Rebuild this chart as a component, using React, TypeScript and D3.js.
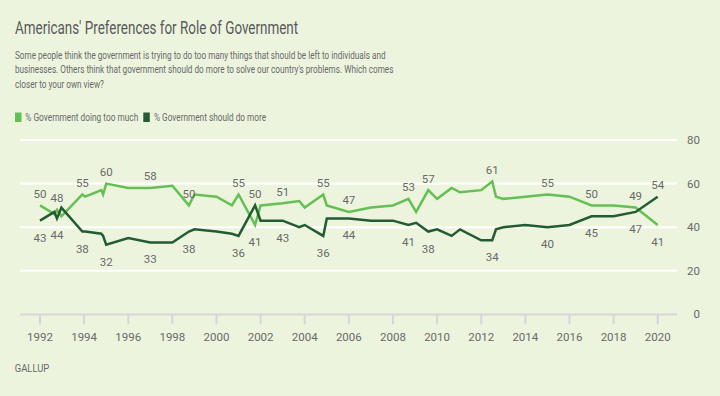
import React, { useLayoutEffect, useRef, useState } from "react";
import * as d3 from "d3";

const dates = [1992.0, 1992.65, 1992.77, 1992.97, 1993.92, 1994.05, 1994.78, 1994.86, 1995.0, 1996.0, 1997.0, 1998.0, 1998.75, 1999.0, 2000.0, 2000.7, 2001.0, 2001.75, 2002.0, 2003.0, 2003.75, 2004.0, 2004.84, 2005.0, 2006.0, 2007.0, 2008.0, 2008.7, 2009.05, 2009.6, 2010.0, 2010.66, 2011.04, 2012.0, 2012.5, 2012.67, 2013.0, 2014.0, 2015.0, 2016.0, 2017.0, 2018.0, 2019.0, 2020.0];
const tooMuch = [50, 46, 48, 45, 55, 54, 57, 55, 60, 58, 58, 59, 50, 55, 54, 50, 55, 41, 50, 51, 52, 49, 55, 50, 47, 49, 50, 53, 47, 57, 53, 58, 56, 57, 61, 54, 53, 54, 55, 54, 50, 50, 49, 41];
const doMore = [43, 47, 44, 49, 38, 38, 37, 36, 32, 35, 33, 33, 38, 39, 38, 37, 36, 50, 43, 43, 40, 41, 36, 44, 44, 43, 43, 41, 42, 38, 39, 36, 39, 34, 34, 39, 40, 41, 40, 41, 45, 45, 47, 54];
const labelIdx = [0, 2, 4, 8, 10, 12, 16, 17, 19, 22, 24, 27, 29, 34, 38, 40, 42, 43];
const xTicks = [1992, 1994, 1996, 1998, 2000, 2002, 2004, 2006, 2008, 2010, 2012, 2014, 2016, 2018, 2020];
const yTicks = [0, 20, 40, 60, 80];
const seriesNames = ["% Government doing too much", "% Government should do more"];
const title = "Americans' Preferences for Role of Government";
const subtitle = [
  "Some people think the government is trying to do too many things that should be left to individuals and",
  "businesses. Others think that government should do more to solve our country's problems. Which comes",
  "closer to your own view?",
];

const W = 720, H = 396;
const BG = "#ecf4de";
const LIGHT = "#64c052";
const DARK = "#235b33";
const TXT = "#6a6a6a";
const FONT = "Roboto, 'Noto Sans', Arial, sans-serif";

function CondText(props: { x: number; y: number; width: number; size: number; fill: string; children: string }) {
  const ref = useRef<SVGTextElement>(null);
  const [sx, setSx] = useState(0.7);
  useLayoutEffect(() => {
    if (ref.current) {
      const n = ref.current.getComputedTextLength();
      if (n > 0) setSx(props.width / n);
    }
  }, [props.width, props.children]);
  return (
    <text ref={ref} transform={`translate(${props.x},${props.y}) scale(${sx},1)`} fontSize={props.size} fill={props.fill}>
      {props.children}
    </text>
  );
}

export default function App() {
  const x = d3.scaleLinear().domain([1992, 2020]).range([40, 657.7]);
  const y = d3.scaleLinear().domain([0, 80]).range([314.4, 140]);
  const line = (vals: number[]) =>
    d3.line<number>().x((_, i) => x(dates[i])).y((v) => y(v))(vals) || "";

  const subW = [370.7, 379, 89];
  return (
    <div style={{ position: "absolute", left: 0, top: 0, width: W, height: H }}>
      <svg width={W} height={H} style={{ display: "block", fontFamily: FONT }}>
        <rect x={0} y={0} width={W} height={H} fill={BG} />
        <CondText x={15} y={34} size={19} fill="#595959" width={283}>{title}</CondText>
        {subtitle.map((s, i) => (
          <CondText key={i} x={15} y={58.5 + i * 14.5} size={11} fill={TXT} width={subW[i]}>{s}</CondText>
        ))}
        {/* legend */}
        <rect x={15} y={112.5} width={6.5} height={9.5} fill={LIGHT} />
        <CondText x={25.3} y={121} size={11} fill={TXT} width={113}>{seriesNames[0]}</CondText>
        <rect x={143.3} y={112.5} width={6.5} height={9.5} fill={DARK} />
        <CondText x={154} y={121} size={11} fill={TXT} width={112}>{seriesNames[1]}</CondText>

        {/* grid */}
        {yTicks.filter((t) => t > 0).map((t) => (
          <line key={t} x1={20} x2={677} y1={y(t)} y2={y(t)} stroke="#ffffff" strokeWidth={2} />
        ))}
        {yTicks.map((t) => (
          <text key={"yl" + t} x={700} y={y(t) + 4} fontSize={11.5} fill={TXT} textAnchor="end">{t}</text>
        ))}
        <line x1={20} x2={677} y1={y(0)} y2={y(0)} stroke="#d6d6d6" strokeWidth={2} />
        {xTicks.map((t) => (
          <g key={"xt" + t}>
            <line x1={x(t)} x2={x(t)} y1={y(0)} y2={y(0) + 10} stroke="#d6d6d6" strokeWidth={2} />
            <text x={x(t)} y={340.5} fontSize={11.5} fill={TXT} textAnchor="middle">{t}</text>
          </g>
        ))}

        <path d={line(tooMuch)} fill="none" stroke={LIGHT} strokeWidth={2.5} strokeLinejoin="miter" />
        <path d={line(doMore)} fill="none" stroke={DARK} strokeWidth={2.5} strokeLinejoin="miter" />

        {labelIdx.map((i) => {
          const g = tooMuch[i], d = doMore[i];
          const gAbove = g >= d;
          const xx = x(dates[i]);
          return (
            <g key={"lb" + i}>
              <text x={xx} y={gAbove ? y(g) - 7.5 : y(g) + 21} fontSize={11.5} fill={TXT} textAnchor="middle">{g}</text>
              <text x={xx} y={gAbove ? y(d) + 21 : y(d) - 7.5} fontSize={11.5} fill={TXT} textAnchor="middle">{d}</text>
            </g>
          );
        })}

        <CondText x={14.7} y={372} size={11} fill={TXT} width={34.6}>GALLUP</CondText>
      </svg>
    </div>
  );
}
